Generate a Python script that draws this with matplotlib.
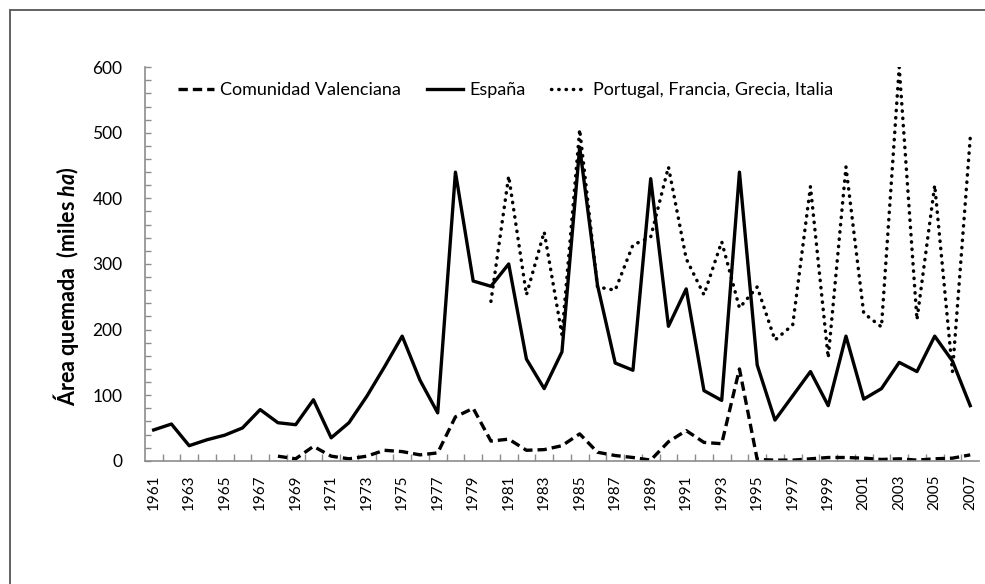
import numpy as np
import matplotlib.pyplot as plt
from matplotlib.patches import Rectangle

plt.rcParams['font.family'] = ['Lato', 'DejaVu Sans']
plt.rcParams['mathtext.fontset'] = 'custom'
plt.rcParams['mathtext.bfit'] = 'Lato:bold:italic'

years = list(range(1961, 2008))

# Espana, 1961-2007 (miles ha)
espana = [47, 56, 23, 32, 39, 50, 78, 58, 55, 93, 35, 58, 98, 143, 190, 123, 73,
          440, 274, 266, 300, 155, 110, 166, 478, 268, 149, 138, 430, 205, 262,
          107, 92, 440, 146, 62, 99, 136, 84, 190, 94, 110, 150, 136, 190, 152, 84]

# Comunidad Valenciana, 1968-2007
valencia_years = list(range(1968, 2008))
valencia = [7, 3, 22, 7, 3, 7, 16, 14, 9, 12, 67, 80, 30, 33, 16, 17, 23, 41, 13,
            8, 5, 1, 29, 46, 28, 26, 140, 2, 1, 1, 3, 5, 5, 4, 2, 3, 1, 3, 4, 9]

# Portugal, Francia, Grecia, Italia, 1980-2007
sur_years = list(range(1980, 2008))
sur = [243, 434, 253, 349, 192, 505, 265, 260, 329, 341, 448, 308, 253, 334, 233,
       265, 184, 207, 418, 157, 448, 225, 204, 600, 215, 420, 136, 492]

fig = plt.figure(figsize=(9.85, 5.84), dpi=100)
ax = fig.add_axes([0.147, 0.211, 0.847, 0.674])

xi = lambda ys: [y - 1961 for y in ys]
ax.plot(xi(valencia_years), valencia, color='black', lw=2.4, ls=(0, (2.8, 1.5)),
        label='Comunidad Valenciana')
ax.plot(xi(years), espana, color='black', lw=2.4, ls='-', label='España')
ax.plot(xi(sur_years), sur, color='black', lw=2.5, ls=(0, (0.1, 2.0)),
        dash_capstyle='round', label='Portugal, Francia, Grecia, Italia')

ax.set_xlim(-0.5, len(years) - 0.5)
ax.set_ylim(0, 600)

axis_gray = '#8c8c8c'
for s in ['top', 'right']:
    ax.spines[s].set_visible(False)
for s in ['left', 'bottom']:
    ax.spines[s].set_color(axis_gray)
    ax.spines[s].set_linewidth(1.2)

ax.set_xticks(np.arange(0, len(years), 2))
ax.set_xticklabels([str(y) for y in years[::2]], rotation=90, fontsize=11)
ax.set_xticks(np.arange(0.5, len(years) - 0.5, 1), minor=True)
ax.tick_params(axis='x', which='major', length=0, pad=10)
ax.tick_params(axis='x', which='minor', direction='in', length=5,
               color=axis_gray, width=1)

ax.set_yticks(np.arange(0, 601, 100))
ax.set_yticks(np.arange(0, 601, 20), minor=True)
ax.tick_params(axis='y', which='both', direction='in', length=4,
               color=axis_gray, width=1, labelsize=12.5, pad=16)

ax.set_ylabel('Área quemada  (miles $\\mathbfit{ha}$)', fontsize=15.5,
              fontweight='bold')
ax.yaxis.set_label_coords(-0.076, 0.444)

ax.legend(loc='upper left', bbox_to_anchor=(0.029, 0.985), ncol=3, frameon=False,
          borderpad=0, fontsize=13, handlelength=2.0, handletextpad=0.35,
          columnspacing=1.4)

fig.patches.append(Rectangle((10 / 985, -0.5), 1.5, 1.5 - 10 / 584,
                             transform=fig.transFigure, fill=False,
                             edgecolor='#555555', lw=1.3))

fig.savefig('out.png', dpi=100)
